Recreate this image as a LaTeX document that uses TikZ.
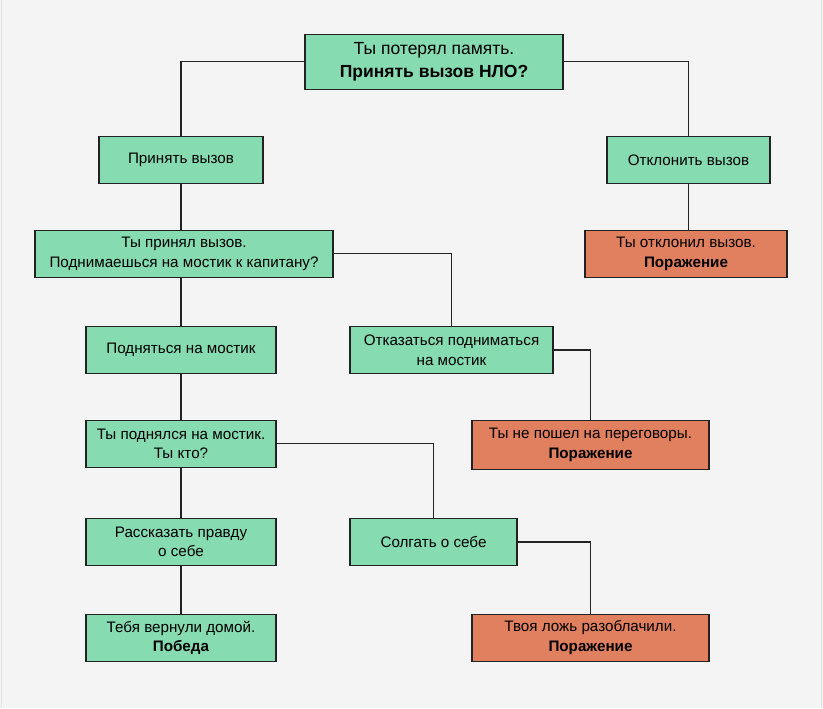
\documentclass[tikz,border=0pt]{standalone}
\usepackage{fontspec}
\setmainfont{Liberation Sans}
\definecolor{bgpanel}{HTML}{F4F4F4}
\definecolor{panelline}{HTML}{E2E2E2}
\definecolor{okgreen}{HTML}{86DBB0}
\definecolor{lossred}{HTML}{E0805F}
\definecolor{inkline}{HTML}{222222}
\begin{document}
\begin{tikzpicture}[x=1pt,y=-1pt,
	    box/.style={draw=inkline, line width=1.2pt, fill=okgreen, align=center, inner sep=0pt,
	        font=\fontsize{15.2}{19.5}\selectfont, minimum height=47pt},
	    lossbox/.style={box, fill=lossred},
	    link/.style={draw=inkline, line width=1.6pt}]
	    \fill[bgpanel] (0,0) rectangle (823,708);
	    \draw[panelline] (1.5,0)--(1.5,708);
	    \draw[panelline] (821.5,0)--(821.5,708);
	    \node[box, minimum width=258pt, minimum height=55pt, font=\fontsize{17.5}{23}\selectfont] (root) at (434,61.5) {Ты потерял память.\\\textbf{Принять вызов НЛО?}};
	    \node[box, minimum width=164pt] (accept) at (181,160) {Принять вызов};
	    \node[box, minimum width=163pt] (reject) at (688.5,160) {Отклонить вызов};
	    \node[box, minimum width=298pt] (ask) at (184,253.5) {Ты принял вызов.\\Поднимаешься на мостик к капитану?};
	    \node[lossbox, minimum width=202pt] (lostA) at (686,253.5) {Ты отклонил вызов.\\\textbf{Поражение}};
	    \node[box, minimum width=190pt] (climb) at (181,350) {Подняться на мостик};
	    \node[box, minimum width=203pt] (refuse) at (451.5,350) {Отказаться подниматься\\на мостик};
	    \node[box, minimum width=190pt] (who) at (181,443.5) {Ты поднялся на мостик.\\Ты кто?};
	    \node[lossbox, minimum width=237pt, minimum height=49pt] (lostB) at (590.5,444.5) {Ты не пошел на переговоры.\\\textbf{Поражение}};
	    \node[box, minimum width=190pt] (truth) at (181,541.5) {Рассказать правду\\о себе};
	    \node[box, minimum width=167pt] (lie) at (433.5,541.5) {Солгать о себе};
	    \node[box, minimum width=190pt] (home) at (181,637.5) {Тебя вернули домой.\\\textbf{Победа}};
	    \node[lossbox, minimum width=237pt] (lostC) at (590.5,637.5) {Твоя ложь разоблачили.\\\textbf{Поражение}};
	    % connectors
	    \draw[link] (root.west) -| (accept.north);
	    \draw[link] (root.east) -| (reject.north);
	    \draw[link] (accept.south) -- (accept.south |- ask.north);
	    \draw[link] (reject.south) -- (reject.south |- lostA.north);
	    \draw[link] (climb.north |- ask.south) -- (climb.north);
	    \draw[link] (ask.east) -| (refuse.north);
	    \draw[link] (refuse.east) -| (lostB.north);
	    \draw[link] (climb) -- (who);
	    \draw[link] (who.east) -| (lie.north);
	    \draw[link] (who) -- (truth);
	    \draw[link] (lie.east) -| (lostC.north);
	    \draw[link] (truth) -- (home);
\end{tikzpicture}
\end{document}
